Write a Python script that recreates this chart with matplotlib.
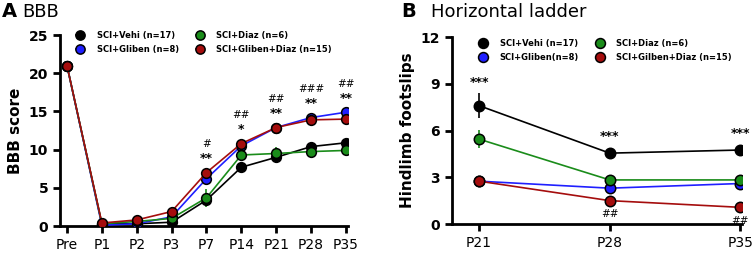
import numpy as np
import matplotlib.pyplot as plt

# BBB score data
bbb_days = ['Pre', 'P1', 'P2', 'P3', 'P7', 'P14', 'P21', 'P28', 'P35']
bbb_vehi = [21, 0.3, 0.3, 0.5, 3.4, 7.7, 9.0, 10.4, 10.9]
bbb_gliben = [21, 0.1, 0.3, 1.2, 6.2, 10.5, 12.9, 14.2, 14.9]
bbb_diaz = [21, 0.3, 0.6, 1.0, 3.7, 9.3, 9.5, 9.75, 9.9]
bbb_both = [21, 0.4, 0.8, 1.9, 7.0, 10.8, 12.9, 13.9, 14.0]
bbb_err_vehi = [0, 0.1, 0.2, 0.3, 0.5, 0.5, 0.5, 0.4, 0.4]
bbb_err_gliben = [0, 0.1, 0.2, 0.4, 0.6, 0.6, 0.5, 0.5, 0.6]
bbb_err_diaz = [0, 0.1, 0.2, 0.3, 1.2, 0.6, 0.8, 0.6, 0.6]
bbb_err_both = [0, 0.2, 0.2, 0.3, 0.5, 0.5, 0.5, 0.6, 0.5]
bbb_star = ['', '', '', '', '**', '*', '**', '**', '**']
bbb_hash = ['', '', '', '', '#', '##', '##', '###', '##']

# Horizontal ladder data
lad_days = ['P21', 'P28', 'P35']
lad_vehi = [7.6, 4.55, 4.75]
lad_gliben = [2.75, 2.3, 2.6]
lad_diaz = [5.45, 2.83, 2.83]
lad_both = [2.75, 1.5, 1.07]
lad_err_vehi = [0.8, 0.35, 0.35]
lad_err_gliben = [0.3, 0.2, 0.2]
lad_err_diaz = [0.6, 0.2, 0.2]
lad_err_both = [0.3, 0.2, 0.2]
lad_star = ['***', '***', '***']
lad_hash = ['', '##', '##']

c_vehi = 'black'
c_gliben = '#1f1fff'
c_diaz = '#1a8c1a'
c_both = '#a50d0d'

fig = plt.figure(figsize=(7.54, 2.56), dpi=100)
axA = fig.add_axes([0.0796, 0.117, 0.382, 0.746])
axB = fig.add_axes([0.5995, 0.125, 0.385, 0.730])


def draw_series(ax, x, y, err, color, label, ms):
    ax.errorbar(x, y, yerr=err, color=color, lw=1.2, elinewidth=1.2, capsize=0,
                marker='o', markersize=ms, markeredgecolor='black',
                markeredgewidth=1.1, label=label, zorder=3)


def style_axes(ax):
    for s in ['top', 'right']:
        ax.spines[s].set_visible(False)
    for s in ['left', 'bottom']:
        ax.spines[s].set_linewidth(2)
    ax.tick_params(width=2, length=5, direction='out')
    for lab in ax.get_yticklabels():
        lab.set_fontweight('bold')
        lab.set_fontsize(10)
    for lab in ax.get_xticklabels():
        lab.set_fontsize(10)


def add_legend(ax, x0, y0):
    ax.legend(ncol=2, loc='upper left', bbox_to_anchor=(x0, y0),
              bbox_transform=fig.transFigure, frameon=False,
              prop={'size': 6, 'weight': 'bold'}, handlelength=1.0,
              handletextpad=1.5, columnspacing=2.0, labelspacing=0.6,
              borderpad=0, borderaxespad=0, markerscale=0.95)


# Panel A
xA = np.arange(len(bbb_days))
draw_series(axA, xA, bbb_vehi, bbb_err_vehi, c_vehi, 'SCI+Vehi (n=17)', 7)
draw_series(axA, xA, bbb_gliben, bbb_err_gliben, c_gliben, 'SCI+Gliben (n=8)', 7)
draw_series(axA, xA, bbb_diaz, bbb_err_diaz, c_diaz, 'SCI+Diaz (n=6)', 7)
draw_series(axA, xA, bbb_both, bbb_err_both, c_both, 'SCI+Gliben+Diaz (n=15)', 7)
axA.set_xlim(-0.2, 8.06)
axA.set_ylim(0, 25)
axA.set_yticks([0, 5, 10, 15, 20, 25])
axA.set_xticks(xA)
axA.set_xticklabels(bbb_days)
axA.set_ylabel('BBB score', fontsize=11, fontweight='bold')
style_axes(axA)
top = [max(a, b) for a, b in zip(bbb_gliben, bbb_both)]
for i in range(len(bbb_days)):
    if bbb_star[i]:
        axA.text(i, top[i] + 1.0, bbb_star[i], ha='center', va='bottom',
                 fontsize=9, fontweight='bold')
        axA.text(i, top[i] + 3.1, bbb_hash[i], ha='center', va='bottom',
                 fontsize=7.5)
add_legend(axA, 0.1008, 0.879)

# Panel B
xB = np.arange(len(lad_days))
draw_series(axB, xB, lad_vehi, lad_err_vehi, c_vehi, 'SCI+Vehi (n=17)', 7.5)
draw_series(axB, xB, lad_gliben, lad_err_gliben, c_gliben, 'SCI+Gliben(n=8)', 7.5)
draw_series(axB, xB, lad_diaz, lad_err_diaz, c_diaz, 'SCI+Diaz (n=6)', 7.5)
draw_series(axB, xB, lad_both, lad_err_both, c_both, 'SCI+Gilben+Diaz (n=15)', 7.5)
axB.set_xlim(-0.207, 2.015)
axB.set_ylim(0, 12)
axB.set_yticks([0, 3, 6, 9, 12])
axB.set_xticks(xB)
axB.set_xticklabels(lad_days)
axB.set_ylabel('Hindlimb footslips', fontsize=11, fontweight='bold')
style_axes(axB)
for i in range(len(lad_days)):
    axB.text(i, lad_vehi[i] + lad_err_vehi[i] + 0.3, lad_star[i], ha='center',
             va='bottom', fontsize=9, fontweight='bold')
    if lad_hash[i]:
        axB.text(i, lad_both[i] - 0.55, lad_hash[i], ha='center', va='top',
                 fontsize=7.5)
add_legend(axB, 0.635, 0.848)

# panel titles
fig.text(0.003, 0.955, 'A', fontsize=14, fontweight='bold', va='center')
fig.text(0.03, 0.955, 'BBB', fontsize=13, va='center')
fig.text(0.532, 0.955, 'B', fontsize=14, fontweight='bold', va='center')
fig.text(0.572, 0.955, 'Horizontal ladder', fontsize=13, va='center')

fig.savefig('out.png', dpi=100)
